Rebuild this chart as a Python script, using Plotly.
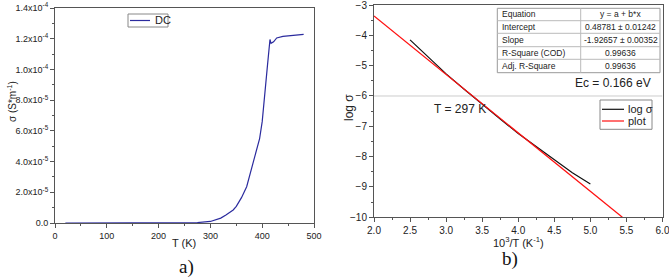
import plotly.graph_objects as go

# ---------------- data ----------------
# panel a) : DC conductivity vs temperature
T_K = [20, 50, 100, 150, 200, 250, 275, 300, 312, 320, 330, 340, 344, 350, 360, 370,
       383, 390, 395, 400, 405, 410, 415, 417, 422, 428, 440, 460, 480]
sigma_dc = [0, 0, 0, 0, 1e-9, 6e-8, 2.8e-7, 1.0e-6, 2.4e-6, 3.2e-6, 5.2e-6, 7.4e-6, 8.5e-6,
            1.08e-5, 1.65e-5, 2.36e-5, 3.9e-5, 4.8e-5, 5.5e-5, 6.6e-5, 8.6e-5, 1.02e-4,
            1.195e-4, 1.17e-4, 1.18e-4, 1.205e-4, 1.215e-4, 1.223e-4, 1.228e-4]

# panel b) : log sigma vs 1000/T and linear fit
invT = [2.5, 2.75, 3.0, 3.25, 3.5, 3.75, 4.0, 4.25, 4.5, 4.75, 5.0]
log_sigma = [-4.15, -4.72, -5.27, -5.78, -6.28, -6.76, -7.24, -7.68, -8.12, -8.53, -8.9]
fit_x = [2.0, 5.444]
fit_y = [-3.365, -10.0]

a_yticks = [0, 2e-5, 4e-5, 6e-5, 8e-5, 1.0e-4, 1.2e-4, 1.4e-4]
a_yticktext = ["0.0", "2.0x10<sup>-5</sup>", "4.0x10<sup>-5</sup>", "6.0x10<sup>-5</sup>",
               "8.0x10<sup>-5</sup>", "1.0x10<sup>-4</sup>", "1.2x10<sup>-4</sup>",
               "1.4x10<sup>-4</sup>"]
b_xticks = [2.0, 2.5, 3.0, 3.5, 4.0, 4.5, 5.0, 5.5, 6.0]
b_yticks = [-10, -9, -8, -7, -6, -5, -4, -3]

table_rows = [("Equation", "y = a + b*x"),
              ("Intercept", "0.48781 ± 0.01242"),
              ("Slope", "-1.92657 ± 0.00352"),
              ("R-Square (COD)", "0.99636"),
              ("Adj. R-Square", "0.99636")]

# ---------------- figure ----------------
W, H = 669, 277
FONT = "Liberation Sans, Arial, sans-serif"
SERIF = "Liberation Serif, Times New Roman, serif"


def px(x):
    return x / W


def py(y):
    return 1 - y / H


fig = go.Figure()
fig.add_trace(go.Scatter(x=T_K, y=sigma_dc, mode="lines", name="DC",
                         line=dict(color="#2b2b9e", width=1.2),
                         xaxis="x", yaxis="y", showlegend=False))
fig.add_trace(go.Scatter(x=invT, y=log_sigma, mode="lines", name="log σ",
                         line=dict(color="#111111", width=1.2),
                         xaxis="x2", yaxis="y2", showlegend=False))
fig.add_trace(go.Scatter(x=fit_x, y=fit_y, mode="lines", name="plot",
                         line=dict(color="#ff1010", width=1.2),
                         xaxis="x2", yaxis="y2", showlegend=False))

axis_common = dict(showline=True, mirror=True, linecolor="#555555", linewidth=1,
                   showgrid=False, zeroline=False, ticks="outside", ticklen=4,
                   tickwidth=1, tickcolor="#555555", automargin=False,
                   ticklabeloverflow="allow",
                   tickfont=dict(family=FONT, size=9, color="#222222"),
                   minor=dict(ticks="outside", ticklen=2, tickcolor="#555555"))

fig.update_layout(
    width=W, height=H, margin=dict(l=0, r=0, t=0, b=0, autoexpand=False),
    paper_bgcolor="white", plot_bgcolor="white",
    xaxis=dict(domain=[px(55), px(314)], range=[0, 500], tickvals=[0, 100, 200, 300, 400, 500],
               anchor="y", **axis_common),
    yaxis=dict(domain=[py(223), py(8)], range=[0, 1.4e-4], tickvals=a_yticks,
               ticktext=a_yticktext, anchor="x", **axis_common),
    xaxis2=dict(domain=[px(374), px(662.5)], range=[2.0, 6.0], tickvals=b_xticks,
                ticktext=[f"{v:.1f}" for v in b_xticks], anchor="y2", **axis_common),
    yaxis2=dict(domain=[py(217.3), py(5)], range=[-10, -3], tickvals=b_yticks,
                anchor="x2", **axis_common),
)
fig.layout.xaxis.minor.dtick = 50
fig.layout.yaxis.minor.dtick = 1e-5
fig.layout.xaxis2.minor.dtick = 0.25
fig.layout.yaxis2.minor.dtick = 0.5
fig.layout.xaxis2.tickfont.size = 10
fig.layout.yaxis2.tickfont.size = 10

shapes = []
ann = []


def text(x, y, s, size=11, xanchor="center", yanchor="middle", angle=0, family=FONT, color="#222222"):
    ann.append(dict(x=px(x), y=py(y), xref="paper", yref="paper", text=s, showarrow=False,
                    xanchor=xanchor, yanchor=yanchor, textangle=angle,
                    font=dict(family=family, size=size, color=color)))


def line(x0, y0, x1, y1, color, width=1):
    shapes.append(dict(type="line", xref="paper", yref="paper", x0=px(x0), y0=py(y0),
                       x1=px(x1), y1=py(y1), line=dict(color=color, width=width)))


def rect(x0, y0, x1, y1, color, width=1):
    shapes.append(dict(type="rect", xref="paper", yref="paper", x0=px(x0), y0=py(y0),
                       x1=px(x1), y1=py(y1), line=dict(color=color, width=width)))


# axis titles
text(12, 102, "σ (S*m<sup>-1</sup>)", size=10, angle=-90)
text(184, 243, "T (K)", size=11)
text(518, 242, "10<sup>3</sup>/T (K<sup>-1</sup>)", size=11)
text(349, 108, "log σ", size=12, angle=-90)

# captions
text(186, 267, "a)", size=19, family=SERIF, color="#111111")
text(510, 259, "b)", size=19, family=SERIF, color="#111111")

# legend a)
rect(128, 14, 168, 27, "#888888")
line(130, 20.5, 150, 20.5, "#2b2b9e", 1.2)
text(153, 20.5, "DC", size=11, xanchor="left")

# reference line at log sigma = -6
shapes.append(dict(type="line", xref="x2", yref="y2", x0=2.0, x1=6.0, y0=-6, y1=-6,
                   line=dict(color="#cccccc", width=1), layer="below"))

# fit table
rows_y = [8.3, 20.7, 33.3, 46.7, 59.3, 72.7]
rect(497.3, rows_y[0], 660, rows_y[-1], "#999999")
for yy in rows_y[1:-1]:
    line(497.3, yy, 660, yy, "#bbbbbb")
line(580.7, rows_y[0], 580.7, rows_y[-1], "#bbbbbb")
for i, (k, v) in enumerate(table_rows):
    yc = (rows_y[i] + rows_y[i + 1]) / 2
    text(500, yc, k, size=8.5, xanchor="left")
    text(620.5, yc, v, size=8.5)

text(653, 82.5, "Ec = 0.166 eV", size=12, xanchor="right")
text(432, 109, "T = 297 K", size=12, xanchor="left")

# legend b)
rect(600, 100, 652, 129.3, "#888888")
line(602, 109.3, 624, 109.3, "#111111", 1.2)
line(602, 121, 624, 121, "#ff1010", 1.2)
text(626, 109.3, "log σ", size=11, xanchor="left")
text(626, 121, "plot", size=11, xanchor="left")

fig.update_layout(shapes=shapes, annotations=ann)
fig.write_html("out.html", config={"displayModeBar": False, "staticPlot": True},
               post_script="document.body.style.margin='0';document.body.style.padding='0';")
